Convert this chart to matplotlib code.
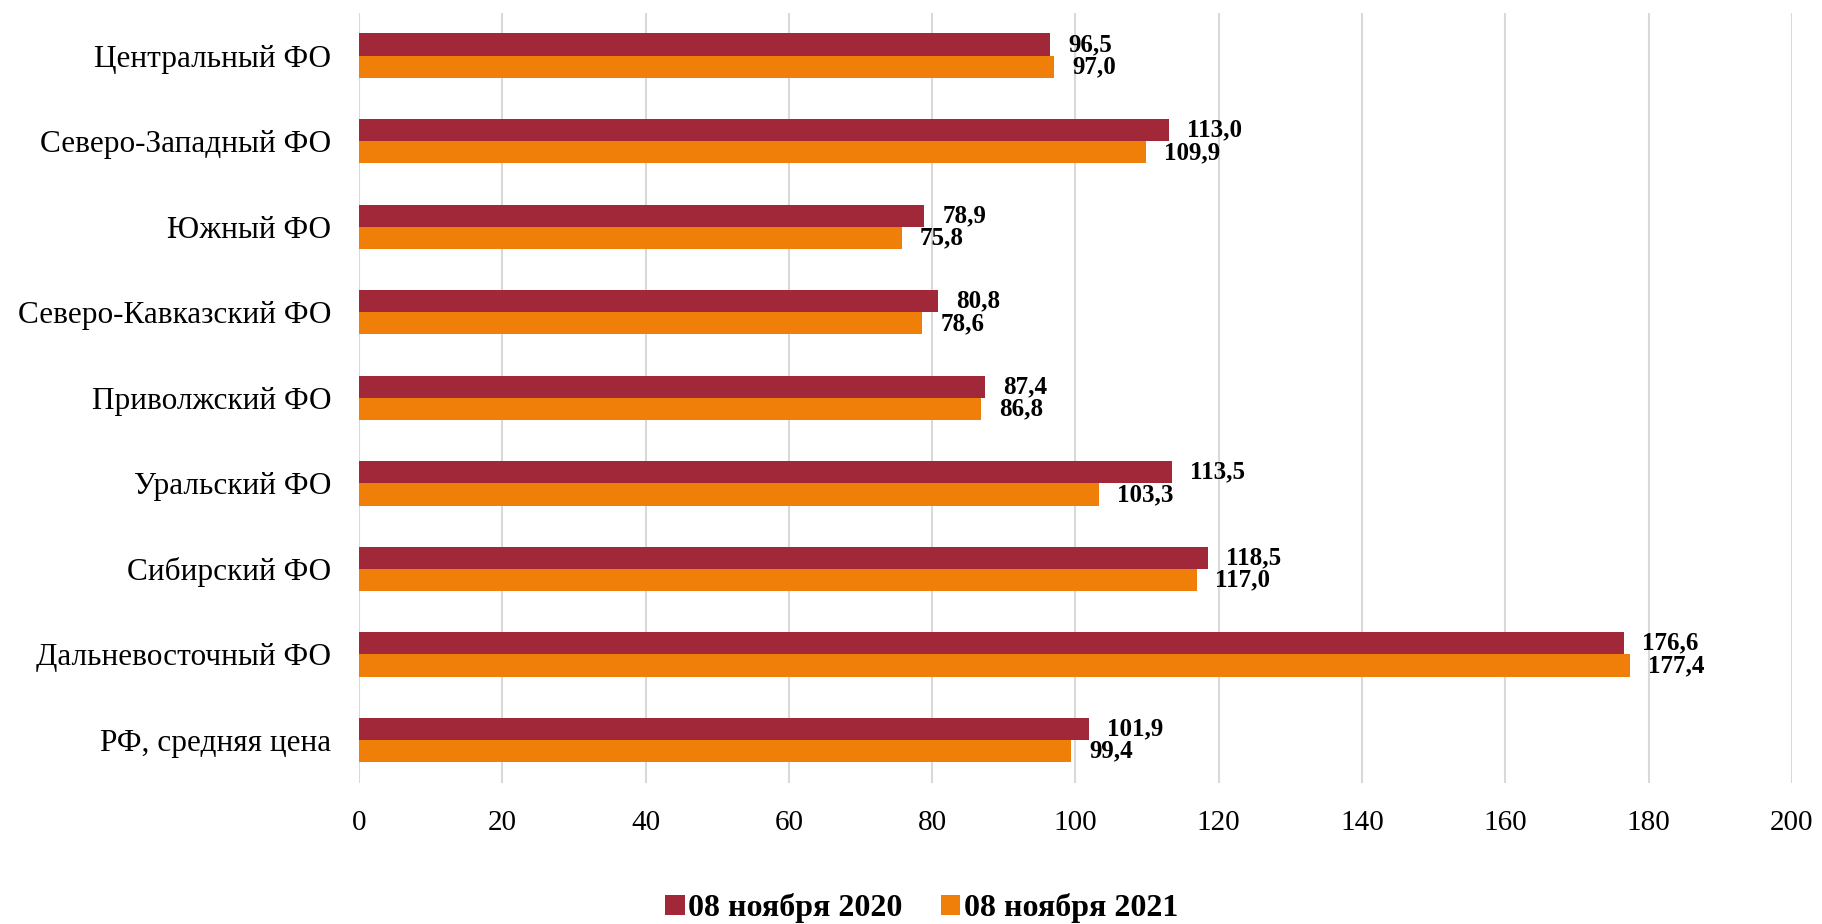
import numpy as np
import matplotlib.pyplot as plt

plt.rcParams['font.family'] = ['Liberation Serif', 'DejaVu Serif']

regions = ['Центральный ФО', 'Северо-Западный ФО', 'Южный ФО', 'Северо-Кавказский ФО',
           'Приволжский ФО', 'Уральский ФО', 'Сибирский ФО', 'Дальневосточный ФО',
           'РФ, средняя цена']
val_2020 = [96.5, 113.0, 78.9, 80.8, 87.4, 113.5, 118.5, 176.6, 101.9]
val_2021 = [97.0, 109.9, 75.8, 78.6, 86.8, 103.3, 117.0, 177.4, 99.4]
labels = ['08 ноября 2020', '08 ноября 2021']
colors = ['#A02838', '#F07F0A']

fig = plt.figure(figsize=(18.22, 9.24), dpi=100)
ax = fig.add_axes([0.197, 0.153, 0.7865, 0.833])

y = np.arange(len(regions))
h = 0.26
b1 = ax.barh(y - h / 2, val_2020, height=h, color=colors[0], label=labels[0], zorder=3)
b2 = ax.barh(y + h / 2, val_2021, height=h, color=colors[1], label=labels[1], zorder=3)

# подписи значений с запятой
for bars, vals in ((b1, val_2020), (b2, val_2021)):
    for bar, v in zip(bars, vals):
        ax.annotate(f'{v:.1f}'.replace('.', ','),
                    (v, bar.get_y() + bar.get_height() / 2),
                    xytext=(13, 0), textcoords='offset points',
                    va='center', ha='left', fontsize=18, fontweight='bold')

ax.set_ylim(len(regions) - 0.5, -0.5)
ax.set_xlim(0, 200)
ax.set_xticks(range(0, 201, 20))
ax.set_yticks(y)
ax.set_yticklabels(regions, fontsize=22.5)
ax.tick_params(axis='x', labelsize=21, length=0, pad=20)
ax.tick_params(axis='y', length=0, pad=20)
ax.grid(axis='x', color='#D9D9D9', linewidth=1.5, zorder=0)
for s in ax.spines.values():
    s.set_visible(False)

fig.legend(handles=[b1, b2], loc='lower center', bbox_to_anchor=(0.506, -0.03), ncol=2,
           frameon=False, prop={'size': 23, 'weight': 'bold'},
           handlelength=0.6, handleheight=0.6, handletextpad=0.12, columnspacing=1.2)

plt.savefig('out.png', dpi=100)
